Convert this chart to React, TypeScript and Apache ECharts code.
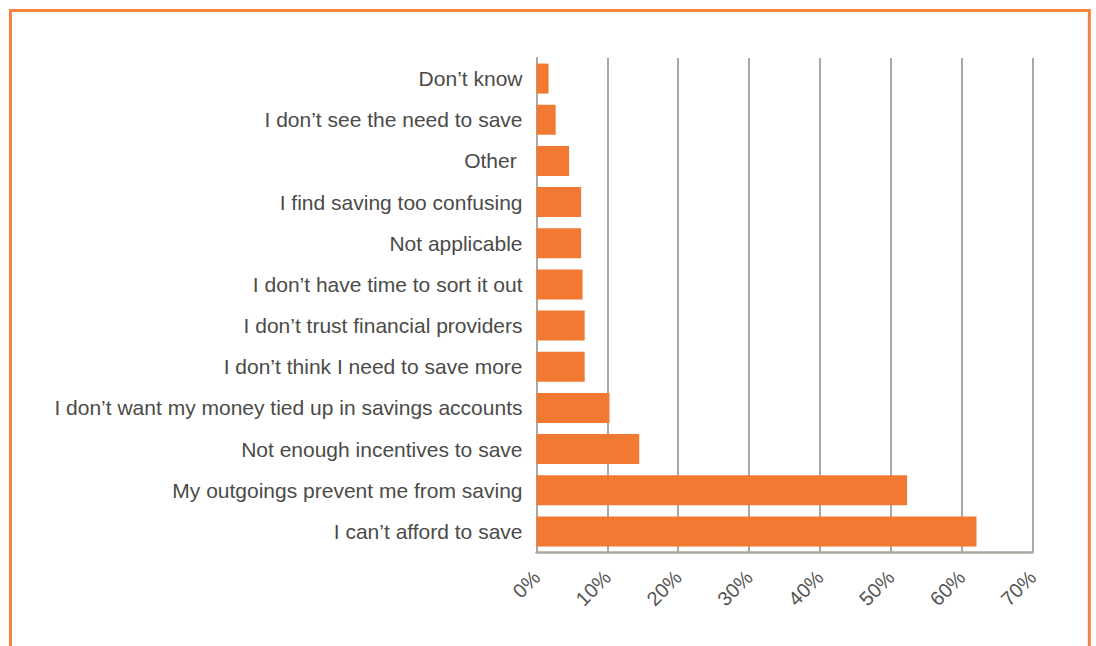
import React, { useEffect, useRef } from "react";
import * as echarts from "echarts";

const categories = [
  "Don\u2019t know",
  "I don\u2019t see the need to save",
  "Other ",
  "I find saving too confusing",
  "Not applicable",
  "I don\u2019t have time to sort it out",
  "I don\u2019t trust financial providers",
  "I don\u2019t think I need to save more",
  "I don\u2019t want my money tied up in savings accounts",
  "Not enough incentives to save",
  "My outgoings prevent me from saving",
  "I can\u2019t afford to save",
];

const values = [1.7, 2.7, 4.6, 6.3, 6.3, 6.5, 6.8, 6.8, 10.3, 14.5, 52.3, 62.1];

const xTicks = { min: 0, max: 70, interval: 10 };

export default function App() {
  const ref = useRef<HTMLDivElement>(null);
  useEffect(() => {
    if (!ref.current) return;
    const chart = echarts.init(ref.current, null, { renderer: "svg" });
    const gray = "#A8A9A1";
    chart.setOption({
      animation: false,
      backgroundColor: "#ffffff",
      textStyle: { fontFamily: "Liberation Sans, Arial, Helvetica, sans-serif" },
      grid: { left: 536.5, right: 63.5, top: 58, bottom: 94, containLabel: false },
      xAxis: {
        type: "value",
        min: xTicks.min,
        max: xTicks.max,
        interval: xTicks.interval,
        axisLine: { show: true, lineStyle: { color: gray, width: 2.5 } },
        axisTick: { show: false },
        splitLine: { show: true, lineStyle: { color: gray, width: 2 } },
        axisLabel: {
          rotate: 45,
          margin: 22,
          fontSize: 20,
          color: "#555555",
          formatter: "{value}%",
        },
      },
      yAxis: {
        type: "category",
        inverse: true,
        data: categories,
        axisLine: { show: true, lineStyle: { color: gray, width: 2 } },
        axisTick: { show: false },
        axisLabel: { fontSize: 21, color: "#4b4b48", margin: 14 },
      },
      series: [
        {
          type: "bar",
          data: values,
          barWidth: 30,
          itemStyle: { color: "#F27932" },
        },
      ],
      graphic: [
        {
          type: "polyline",
          shape: { points: [[10.5, 646], [10.5, 10.5], [1089.3, 10.5], [1089.3, 646]] },
          style: { stroke: "#F6823F", lineWidth: 3, fill: "none" },
          silent: true,
        },
      ],
    });
    return () => chart.dispose();
  }, []);
  return (
    <div
      ref={ref}
      style={{ position: "fixed", left: 0, top: 0, width: 1096, height: 646 }}
    />
  );
}
